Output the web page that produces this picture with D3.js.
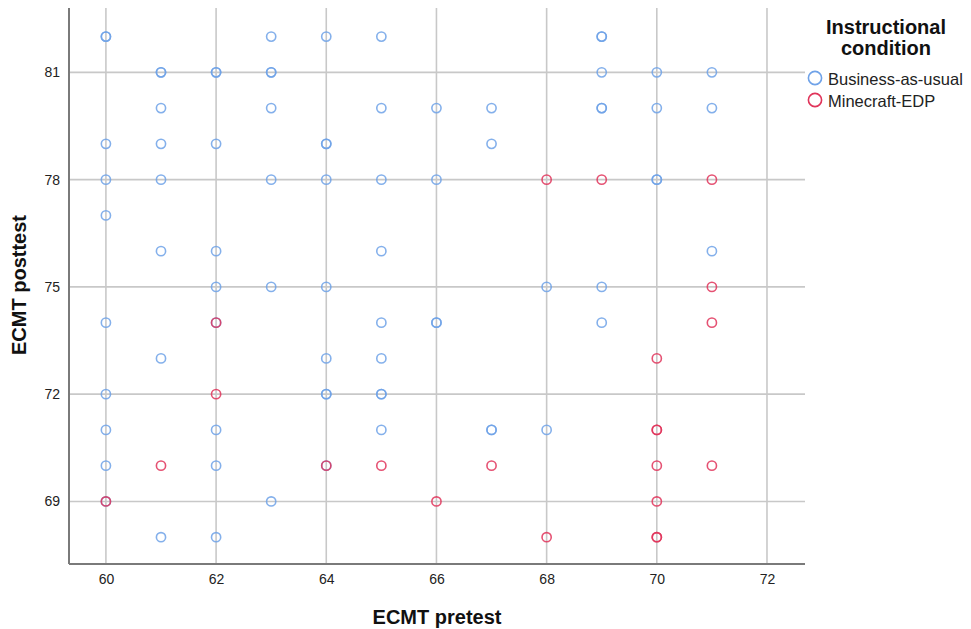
<!DOCTYPE html>
<html><head><meta charset="utf-8">
<script src="https://cdn.jsdelivr.net/npm/d3@7"></script>
<style>body{margin:0;background:#fff}svg{display:block}</style>
</head><body>
<svg id="chart" width="971" height="629"></svg>
<script>
const groups = ["Business-as-usual", "Minecraft-EDP"];
const groupColors = ["#6FA2E8", "#E0345A"];
const xTicks = [60, 62, 64, 66, 68, 70, 72];
const yTicks = [69, 72, 75, 78, 81];
// [pretest, posttest] pairs
const businessAsUsual = [
  [60,82],[60,82],[60,79],[60,78],[60,77],[60,74],[60,72],[60,71],[60,70],[60,69],
  [61,81],[61,81],[61,80],[61,79],[61,78],[61,76],[61,73],[61,68],
  [62,81],[62,81],[62,79],[62,76],[62,75],[62,74],[62,71],[62,70],[62,68],
  [63,82],[63,81],[63,81],[63,80],[63,78],[63,75],[63,69],
  [64,82],[64,79],[64,79],[64,78],[64,75],[64,73],[64,72],[64,72],[64,70],
  [65,82],[65,80],[65,78],[65,76],[65,74],[65,73],[65,72],[65,72],[65,71],
  [66,80],[66,78],[66,74],[66,74],
  [67,80],[67,79],[67,71],[67,71],
  [68,75],[68,71],
  [69,82],[69,82],[69,81],[69,80],[69,80],[69,75],[69,74],
  [70,81],[70,80],[70,78],[70,78],
  [71,81],[71,80],[71,76]
];
const minecraftEDP = [
  [60,69],[61,70],[62,74],[62,72],[64,70],[65,70],[66,69],[67,70],
  [68,78],[68,68],[69,78],
  [70,73],[70,71],[70,71],[70,70],[70,69],[70,68],[70,68],
  [71,78],[71,75],[71,74],[71,70]
];
const seriesData = [businessAsUsual, minecraftEDP];

const svg = d3.select("#chart");
const pL = 69, pR = 805, pT = 8, pB = 564;
const x = d3.scaleLinear().domain([59.33, 72.69]).range([pL, pR]);
const y = d3.scaleLinear().domain([67.25, 82.8]).range([pB, pT]);
const font = "Arial, 'Liberation Sans', sans-serif";

// grid
svg.append("g").selectAll("line").data(xTicks).join("line")
  .attr("x1", d => x(d)).attr("x2", d => x(d)).attr("y1", pT).attr("y2", pB)
  .attr("stroke", "#c8c8c8").attr("stroke-width", 1.6);
svg.append("g").selectAll("line").data(yTicks).join("line")
  .attr("x1", pL).attr("x2", pR).attr("y1", d => y(d)).attr("y2", d => y(d))
  .attr("stroke", "#c8c8c8").attr("stroke-width", 1.6);

// axes
const xAxis = svg.append("g").attr("transform", `translate(0,${pB})`)
  .call(d3.axisBottom(x).tickValues(xTicks).tickSize(0).tickPadding(10).tickFormat(d3.format("d")));
const yAxis = svg.append("g").attr("transform", `translate(${pL},0)`)
  .call(d3.axisLeft(y).tickValues(yTicks).tickSize(0).tickPadding(9).tickFormat(d3.format("d")));
[xAxis, yAxis].forEach(a => {
  a.select(".domain").remove();
  a.selectAll("text").attr("font-family", font).attr("font-size", 14).attr("fill", "#222");
});
svg.append("line").attr("x1", pL).attr("x2", pL).attr("y1", pT).attr("y2", pB)
  .attr("stroke", "#7a7a7a").attr("stroke-width", 2);
svg.append("line").attr("x1", pL).attr("x2", pR).attr("y1", pB).attr("y2", pB)
  .attr("stroke", "#7a7a7a").attr("stroke-width", 2);

// points
seriesData.forEach((data, i) => {
  svg.append("g").selectAll("circle").data(data).join("circle")
    .attr("cx", d => x(d[0])).attr("cy", d => y(d[1])).attr("r", 4.6)
    .attr("fill", "none").attr("stroke", groupColors[i]).attr("stroke-width", 1.6)
    .attr("stroke-opacity", 0.85);
});

// axis titles
svg.append("text").attr("x", 437).attr("y", 624).attr("text-anchor", "middle")
  .attr("font-family", font).attr("font-weight", "bold").attr("font-size", 20).attr("fill", "#111")
  .text("ECMT pretest");
svg.append("text").attr("transform", "translate(26,285) rotate(-90)").attr("text-anchor", "middle")
  .attr("font-family", font).attr("font-weight", "bold").attr("font-size", 20).attr("fill", "#111")
  .text("ECMT posttest");

// legend
const lg = svg.append("g");
lg.append("text").attr("x", 886).attr("y", 34).attr("text-anchor", "middle")
  .attr("font-family", font).attr("font-weight", "bold").attr("font-size", 20).attr("fill", "#111")
  .text("Instructional");
lg.append("text").attr("x", 886).attr("y", 55).attr("text-anchor", "middle")
  .attr("font-family", font).attr("font-weight", "bold").attr("font-size", 20).attr("fill", "#111")
  .text("condition");
groups.forEach((g, i) => {
  const yy = 78 + i * 22;
  lg.append("circle").attr("cx", 815).attr("cy", yy).attr("r", 6.6)
    .attr("fill", "none").attr("stroke", groupColors[i]).attr("stroke-width", 1.6);
  lg.append("text").attr("x", 828).attr("y", yy + 6.5)
    .attr("font-family", font).attr("font-size", 16.5).attr("fill", "#222").text(g);
});
</script>
</body></html>
